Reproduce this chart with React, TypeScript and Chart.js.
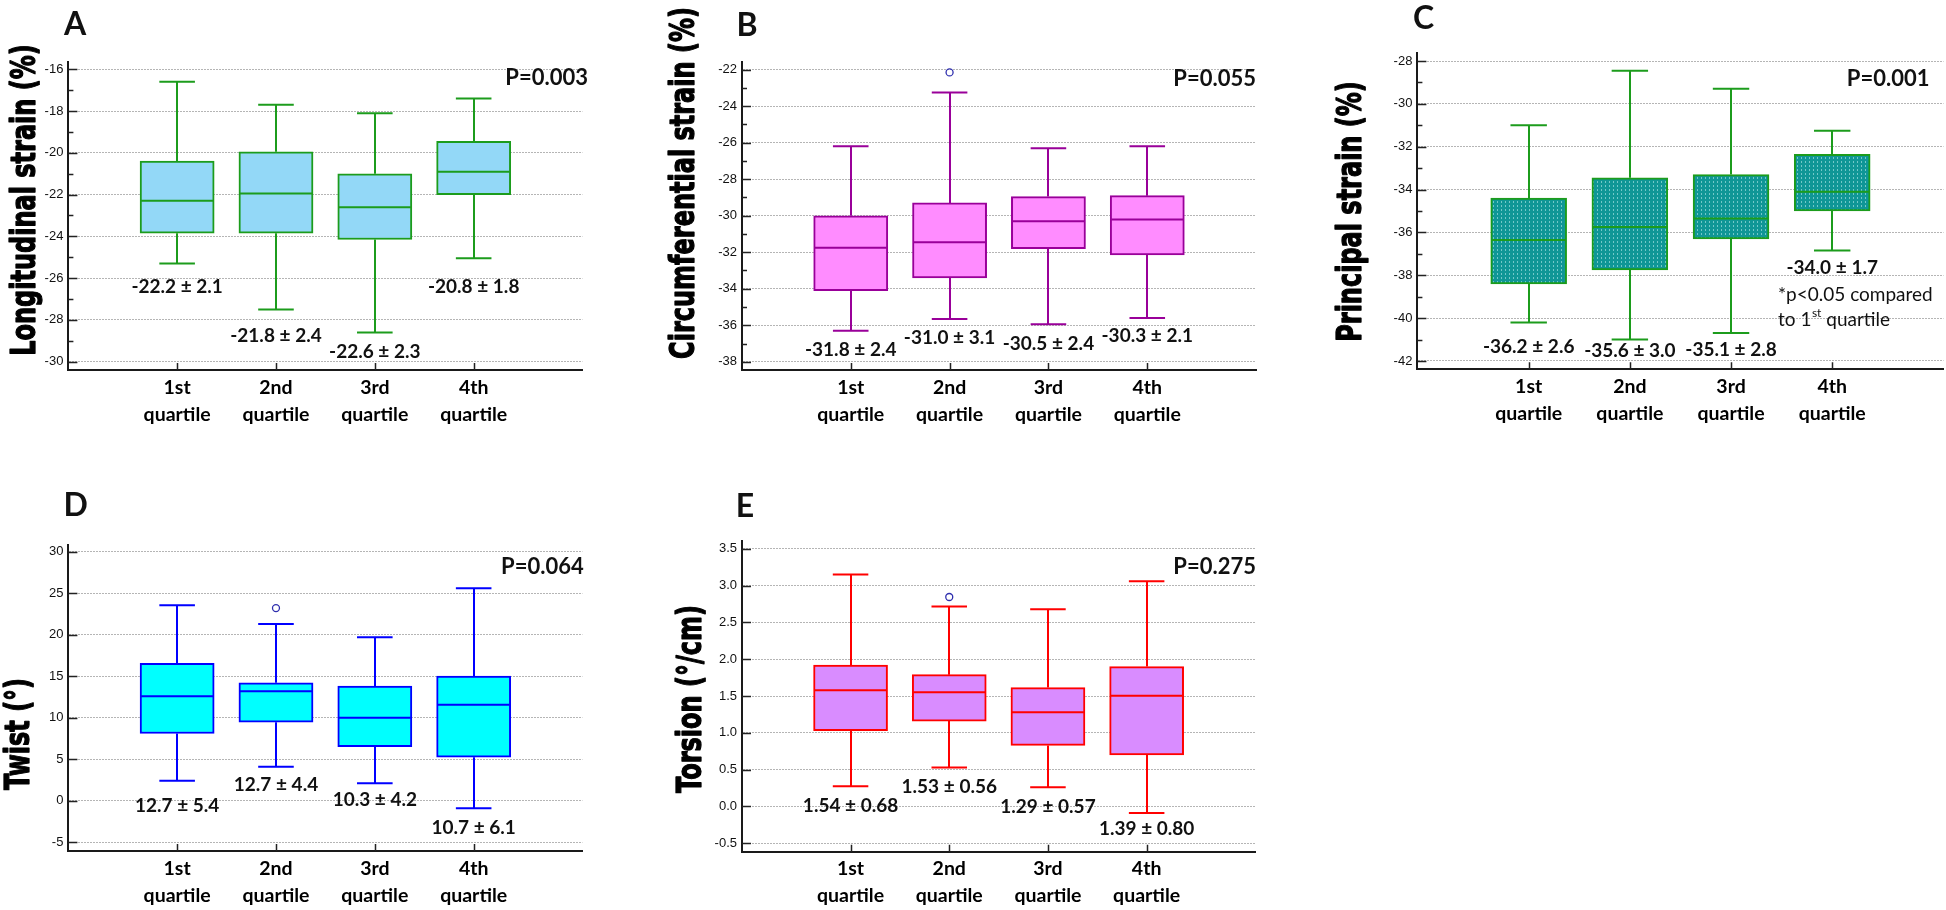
import React, { useEffect, useRef } from 'react';
import { Chart, registerables } from 'chart.js';

Chart.register(...registerables);

// ---------- shared category data ----------
const quartilePos = [1, 2, 3, 4];
const quartileTickLines = [
  ['1st', 'quartile'],
  ['2nd', 'quartile'],
  ['3rd', 'quartile'],
  ['4th', 'quartile'],
];

// ---------- A: Longitudinal strain ----------
const longLow = [-25.3, -27.5, -28.6, -25.05];
const longQ1 = [-23.85, -23.85, -24.15, -22.0];
const longMed = [-22.3, -21.95, -22.6, -20.9];
const longQ3 = [-20.4, -19.95, -21.0, -19.45];
const longHigh = [-16.6, -17.7, -18.1, -17.4];
const longOutliers: { x: number; y: number }[] = [];
const longMeanSd = ['-22.2 ± 2.1', '-21.8 ± 2.4', '-22.6 ± 2.3', '-20.8 ± 1.8'];
const longMeanSdY = [-26.44, -28.75, -29.52, -26.44];
const longMajor = [-30, -28, -26, -24, -22, -20, -18, -16];
const longMinor = [-29, -27, -25, -23, -21, -19, -17];

// ---------- B: Circumferential strain ----------
const circLow = [-36.3, -35.65, -35.95, -35.6];
const circQ1 = [-34.1, -33.4, -31.8, -32.15];
const circMed = [-31.75, -31.45, -30.3, -30.2];
const circQ3 = [-30.0, -29.3, -28.95, -28.9];
const circHigh = [-26.2, -23.25, -26.3, -26.2];
const circOutliers = [{ x: 2, y: -22.15 }];
const circMeanSd = ['-31.8 ± 2.4', '-31.0 ± 3.1', '-30.5 ± 2.4', '-30.3 ± 2.1'];
const circMeanSdY = [-37.36, -36.69, -37.0, -36.58];
const circMajor = [-38, -36, -34, -32, -30, -28, -26, -24, -22];
const circMinor = [-37, -35, -33, -31, -29, -27, -25, -23];

// ---------- C: Principal strain ----------
const prinLow = [-40.2, -41.0, -40.7, -36.85];
const prinQ1 = [-38.4, -37.75, -36.3, -35.0];
const prinMed = [-36.35, -35.75, -35.35, -34.1];
const prinQ3 = [-34.4, -33.45, -33.3, -32.35];
const prinHigh = [-31.0, -28.45, -29.3, -31.25];
const prinOutliers: { x: number; y: number }[] = [];
const prinMeanSd = ['-36.2 ± 2.6', '-35.6 ± 3.0', '-35.1 ± 2.8', '-34.0 ± 1.7'];
const prinMeanSdY = [-41.33, -41.53, -41.49, -37.67];
const prinMajor = [-42, -40, -38, -36, -34, -32, -30, -28];
const prinMinor = [-41, -39, -37, -35, -33, -31, -29];

// ---------- D: Twist ----------
const twistLow = [2.4, 4.1, 2.1, -0.9];
const twistQ1 = [8.1, 9.45, 6.5, 5.25];
const twistMed = [12.6, 13.2, 10.0, 11.55];
const twistQ3 = [16.55, 14.2, 13.8, 15.0];
const twistHigh = [23.55, 21.3, 19.7, 25.6];
const twistOutliers = [{ x: 2, y: 23.2 }];
const twistMeanSd = ['12.7 ± 5.4', '12.7 ± 4.4', '10.3 ± 4.2', '10.7 ± 6.1'];
const twistMeanSdY = [-0.59, 1.9, 0.09, -3.32];
const twistMajor = [-5, 0, 5, 10, 15, 20, 25, 30];
const twistMinor: number[] = [];

// ---------- E: Torsion ----------
const torsLow = [0.275, 0.53, 0.26, -0.09];
const torsQ1 = [1.03, 1.16, 0.83, 0.7];
const torsMed = [1.58, 1.55, 1.28, 1.505];
const torsQ3 = [1.92, 1.79, 1.615, 1.9];
const torsHigh = [3.15, 2.715, 2.68, 3.06];
const torsOutliers = [{ x: 2, y: 2.845 }];
const torsMeanSd = ['1.54 ± 0.68', '1.53 ± 0.56', '1.29 ± 0.57', '1.39 ± 0.80'];
const torsMeanSdY = [0.01, 0.27, -0.01, -0.3];
const torsMajor = [-0.5, 0, 0.5, 1, 1.5, 2, 2.5, 3, 3.5];
const torsMinor: number[] = [];

const W = 1946;
const H = 910;
const HUMAN = 'Lato, "Open Sans", sans-serif';
const SANS = '"Liberation Sans", Arial, sans-serif';

interface Panel {
  letter: string;
  letterPos: [number, number];
  title: string;
  titlePos: [number, number];
  area: { left: number; right: number; top: number; bottom: number };
  yMin: number;
  yMax: number;
  major: number[];
  minor: number[];
  decimals: number;
  low: number[];
  q1: number[];
  med: number[];
  q3: number[];
  high: number[];
  outliers: { x: number; y: number }[];
  meanSd: string[];
  meanSdY: number[];
  pText: string;
  pPos: [number, number];
  fill: string;
  stroke: string;
  pattern?: boolean;
  note?: boolean;
}

const panels: Panel[] = [
  {
    letter: 'A', letterPos: [75, 24], title: 'Longitudinal strain (%)', titlePos: [35, 200],
    area: { left: 68.4, right: 582.4, top: 62, bottom: 370 },
    yMin: -30.4, yMax: -15.65, major: longMajor, minor: longMinor, decimals: 0,
    low: longLow, q1: longQ1, med: longMed, q3: longQ3, high: longHigh, outliers: longOutliers,
    meanSd: longMeanSd, meanSdY: longMeanSdY, pText: 'P=0.003', pPos: [588, 78.3],
    fill: '#93d8f7', stroke: '#1c9c1c',
  },
  {
    letter: 'B', letterPos: [747, 25], title: 'Circumferential strain (%)', titlePos: [694, 183],
    area: { left: 742, right: 1256, top: 62, bottom: 370 },
    yMin: -38.45, yMax: -21.58, major: circMajor, minor: circMinor, decimals: 0,
    low: circLow, q1: circQ1, med: circMed, q3: circQ3, high: circHigh, outliers: circOutliers,
    meanSd: circMeanSd, meanSdY: circMeanSdY, pText: 'P=0.055', pPos: [1256, 79.3],
    fill: '#ff8cff', stroke: '#990099',
  },
  {
    letter: 'C', letterPos: [1423.5, 18], title: 'Principal strain (%)', titlePos: [1361, 211.5],
    area: { left: 1417.4, right: 1943.5, top: 53.3, bottom: 369.3 },
    yMin: -42.39, yMax: -27.64, major: prinMajor, minor: prinMinor, decimals: 0,
    low: prinLow, q1: prinQ1, med: prinMed, q3: prinQ3, high: prinHigh, outliers: prinOutliers,
    meanSd: prinMeanSd, meanSdY: prinMeanSdY, pText: 'P=0.001', pPos: [1929.5, 79],
    fill: '#0f9999', stroke: '#1c9c1c', pattern: true, note: true,
  },
  {
    letter: 'D', letterPos: [75.6, 505], title: 'Twist (°)', titlePos: [29, 734],
    area: { left: 68.4, right: 582.4, top: 545, bottom: 851 },
    yMin: -6.05, yMax: 30.8, major: twistMajor, minor: twistMinor, decimals: 0,
    low: twistLow, q1: twistQ1, med: twistMed, q3: twistQ3, high: twistHigh, outliers: twistOutliers,
    meanSd: twistMeanSd, meanSdY: twistMeanSdY, pText: 'P=0.064', pPos: [583.7, 567.3],
    fill: '#00ffff', stroke: '#0000ff',
  },
  {
    letter: 'E', letterPos: [745, 506], title: 'Torsion (°/cm)', titlePos: [701, 699],
    area: { left: 742, right: 1255.2, top: 540.7, bottom: 851.7 },
    yMin: -0.614, yMax: 3.61, major: torsMajor, minor: torsMinor, decimals: 1,
    low: torsLow, q1: torsQ1, med: torsMed, q3: torsQ3, high: torsHigh, outliers: torsOutliers,
    meanSd: torsMeanSd, meanSdY: torsMeanSdY, pText: 'P=0.275', pPos: [1256, 567.3],
    fill: '#d98cff', stroke: '#ff0000',
  },
];

function makeDotPattern(): CanvasPattern | string {
  const c = document.createElement('canvas');
  c.width = 4;
  c.height = 4;
  const g = c.getContext('2d');
  if (!g) return '#0f9999';
  g.fillStyle = '#0f9696';
  g.fillRect(0, 0, 4, 4);
  g.fillStyle = '#72c8c8';
  g.fillRect(1, 1, 1, 2);
  return g.createPattern(c, 'repeat') || '#0f9999';
}

function makeExtrasPlugin(p: Panel) {
  return {
    id: 'boxExtras',
    afterDatasetsDraw(chart: any) {
      const { ctx, chartArea: a } = chart;
      const x = chart.scales.x;
      const y = chart.scales.y;
      ctx.save();

      // inward tick marks
      ctx.strokeStyle = '#222';
      ctx.lineWidth = 1.5;
      ctx.beginPath();
      p.major.forEach((v) => {
        const py = Math.round(y.getPixelForValue(v)) + 0.5;
        ctx.moveTo(a.left, py);
        ctx.lineTo(a.left + 9, py);
      });
      p.minor.forEach((v) => {
        const py = Math.round(y.getPixelForValue(v)) + 0.5;
        ctx.moveTo(a.left, py);
        ctx.lineTo(a.left + 5, py);
      });
      quartilePos.forEach((v) => {
        const px = Math.round(x.getPixelForValue(v)) + 0.5;
        ctx.moveTo(px, a.bottom);
        ctx.lineTo(px, a.bottom - 7);
      });
      ctx.stroke();

      // whiskers, caps, medians
      ctx.strokeStyle = p.stroke;
      ctx.lineWidth = 2;
      ctx.beginPath();
      quartilePos.forEach((v, i) => {
        const cx = Math.round(x.getPixelForValue(v));
        const cl = x.getPixelForValue(v - 0.18);
        const cr = x.getPixelForValue(v + 0.18);
        const bl = x.getPixelForValue(v - 0.375);
        const br = x.getPixelForValue(v + 0.375);
        const yHi = y.getPixelForValue(p.high[i]);
        const yLo = y.getPixelForValue(p.low[i]);
        const yQ1 = y.getPixelForValue(p.q1[i]);
        const yQ3 = y.getPixelForValue(p.q3[i]);
        const yMed = y.getPixelForValue(p.med[i]);
        ctx.moveTo(cx, yQ3);
        ctx.lineTo(cx, yHi);
        ctx.moveTo(cl, yHi);
        ctx.lineTo(cr, yHi);
        ctx.moveTo(cx, yQ1);
        ctx.lineTo(cx, yLo);
        ctx.moveTo(cl, yLo);
        ctx.lineTo(cr, yLo);
        ctx.moveTo(bl + 1, yMed);
        ctx.lineTo(br - 1, yMed);
      });
      ctx.stroke();

      // mean ± SD labels
      ctx.fillStyle = '#111';
      ctx.font = `bold 19px ${HUMAN}`;
      ctx.textAlign = 'center';
      ctx.textBaseline = 'middle';
      quartilePos.forEach((v, i) => {
        ctx.fillText(p.meanSd[i], x.getPixelForValue(v), y.getPixelForValue(p.meanSdY[i]));
      });

      // P value
      ctx.font = `bold 22px ${HUMAN}`;
      ctx.textAlign = 'right';
      ctx.fillText(p.pText, p.pPos[0], p.pPos[1]);

      // note in panel C
      if (p.note) {
        ctx.font = `19px ${HUMAN}`;
        ctx.textAlign = 'left';
        ctx.fillText('*p<0.05 compared', 1778, 295);
        let tx = 1778;
        const part1 = 'to 1';
        ctx.fillText(part1, tx, 319.5);
        tx += ctx.measureText(part1).width;
        ctx.font = `12px ${HUMAN}`;
        ctx.fillText('st', tx + 0.5, 313);
        tx += ctx.measureText('st').width + 0.5;
        ctx.font = `19px ${HUMAN}`;
        ctx.fillText(' quartile', tx, 319.5);
      }

      // panel letter
      ctx.font = `bold 32px ${HUMAN}`;
      ctx.textAlign = 'center';
      ctx.textBaseline = 'middle';
      ctx.fillText(p.letter, p.letterPos[0], p.letterPos[1] + 1);

      // rotated, widened axis title
      ctx.save();
      ctx.translate(p.titlePos[0], p.titlePos[1]);
      ctx.rotate(-Math.PI / 2);
      ctx.scale(1, 1.42);
      ctx.font = 'bold 24px "DejaVu Sans", Verdana, sans-serif';
      ctx.textAlign = 'center';
      ctx.textBaseline = 'alphabetic';
      ctx.fillStyle = '#000';
      ctx.strokeStyle = '#000';
      ctx.lineWidth = 0.9;
      ctx.lineJoin = 'round';
      ctx.fillText(p.title, 0, 0);
      ctx.strokeText(p.title, 0, 0);
      ctx.restore();

      ctx.restore();
    },
  };
}

function PanelChart({ p }: { p: Panel }) {
  const ref = useRef<HTMLCanvasElement>(null);
  useEffect(() => {
    const canvas = ref.current;
    if (!canvas) return;
    const spacing = (p.area.right - p.area.left) / 5.2;
    const fill = p.pattern ? makeDotPattern() : p.fill;
    const xHeight = Math.min(80, H - p.area.bottom);
    const chart = new Chart(canvas, {
      type: 'bar',
      data: {
        datasets: [
          {
            type: 'bar',
            data: quartilePos.map((xv, i) => ({ x: xv, y: [p.q1[i], p.q3[i]] })) as any,
            backgroundColor: fill as any,
            borderColor: p.stroke,
            borderWidth: 2,
            borderSkipped: false,
            barThickness: spacing * 0.75,
          } as any,
          {
            type: 'scatter',
            data: p.outliers as any,
            pointStyle: 'circle',
            pointRadius: 3.5,
            borderColor: '#2f2fae',
            backgroundColor: 'rgba(0,0,0,0)',
            borderWidth: 1.3,
          } as any,
        ],
      },
      options: {
        responsive: false,
        animation: false,
        devicePixelRatio: 1,
        events: [],
        layout: {
          autoPadding: false,
          padding: {
            left: p.area.left - 50,
            right: W - p.area.right,
            top: p.area.top,
            bottom: Math.max(0, H - p.area.bottom - xHeight),
          },
        },
        plugins: {
          legend: { display: false },
          tooltip: { enabled: false },
          title: { display: false },
        },
        scales: {
          x: {
            type: 'linear',
            min: -0.1,
            max: 5.1,
            offset: false,
            bounds: 'data',
            afterBuildTicks: (s: any) => {
              s.ticks = quartilePos.map((v) => ({ value: v }));
            },
            afterFit: (s: any) => {
              s.height = xHeight;
              s.paddingLeft = 0;
              s.paddingRight = 0;
            },
            grid: { display: false, drawTicks: false, tickLength: 0 },
            border: { display: true, color: '#1a1a1a', width: 2 },
            ticks: {
              autoSkip: false,
              maxRotation: 0,
              minRotation: 0,
              padding: 4,
              color: '#000',
              font: { family: HUMAN, weight: 'bold', size: 19.5, lineHeight: 27 / 19.5 },
              callback: (v: any) => quartileTickLines[Math.round(Number(v)) - 1] || '',
            },
          } as any,
          y: {
            type: 'linear',
            min: p.yMin,
            max: p.yMax,
            bounds: 'data',
            beginAtZero: false,
            afterBuildTicks: (s: any) => {
              s.ticks = p.major.map((v) => ({ value: v }));
            },
            afterFit: (s: any) => {
              s.width = 50;
              s.paddingTop = 0;
              s.paddingBottom = 0;
            },
            grid: { color: '#b5b5b5', lineWidth: 1, drawTicks: false, tickLength: 0 },
            border: { display: true, color: '#1a1a1a', width: 2, dash: [2, 1] },
            ticks: {
              padding: 5,
              color: '#111',
              font: { family: SANS, size: 13 },
              callback: (v: any) => Number(v).toFixed(p.decimals),
            },
          } as any,
        },
      },
      plugins: [makeExtrasPlugin(p)],
    });
    return () => chart.destroy();
  }, [p]);
  return (
    <canvas
      ref={ref}
      width={W}
      height={H}
      style={{ position: 'absolute', left: 0, top: 0, width: W, height: H, pointerEvents: 'none' }}
    />
  );
}

export default function App() {
  return (
    <div style={{ position: 'absolute', left: 0, top: 0, width: W, height: H, background: '#fff', overflow: 'hidden' }}>
      {panels.map((p) => (
        <PanelChart key={p.letter} p={p} />
      ))}
    </div>
  );
}
